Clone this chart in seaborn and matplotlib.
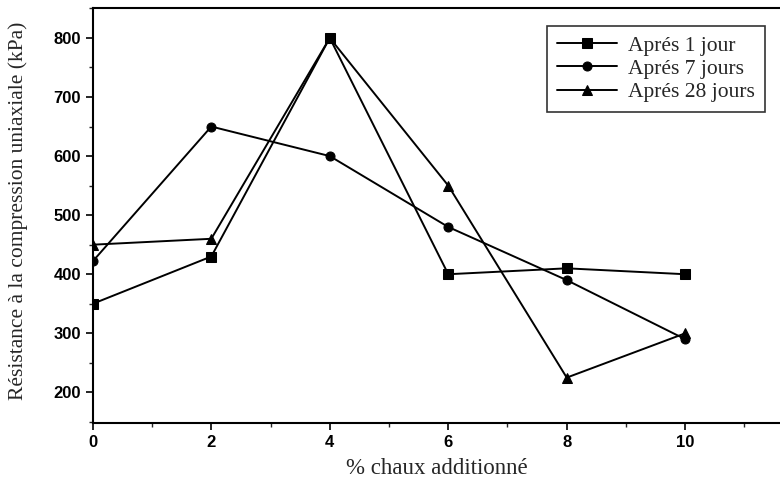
import matplotlib
matplotlib.use("Agg")
import matplotlib.pyplot as plt
import seaborn as sns
import pandas as pd
from matplotlib.ticker import MultipleLocator

chaux = [0, 2, 4, 6, 8, 10]
jour1 = [350, 430, 800, 400, 410, 400]
jours7 = [422, 650, 600, 480, 390, 290]
jours28 = [450, 460, 800, 550, 225, 300]
series_names = ["Aprés 1 jour", "Aprés 7 jours", "Aprés 28 jours"]

df = pd.DataFrame({
    "x": chaux * 3,
    "y": jour1 + jours7 + jours28,
    "serie": [series_names[0]] * 6 + [series_names[1]] * 6 + [series_names[2]] * 6,
})

sns.set_style("ticks")
fig = plt.figure(figsize=(7.8, 4.88), dpi=100)
ax = fig.add_axes([0.119, 0.133, 0.881, 0.851])

sns.lineplot(data=df, x="x", y="y", hue="serie", style="serie",
             palette=["black"] * 3, markers={series_names[0]: "s", series_names[1]: "o", series_names[2]: "^"},
             dashes=False, markersize=6.5, linewidth=1.4, markeredgecolor="black",
             ax=ax, legend=True)

ax.set_xlim(0, 11.6)
ax.set_ylim(148, 851)
ax.xaxis.set_major_locator(MultipleLocator(2))
ax.xaxis.set_minor_locator(MultipleLocator(1))
ax.yaxis.set_major_locator(MultipleLocator(100))
ax.yaxis.set_minor_locator(MultipleLocator(50))
ax.set_yticks([200, 300, 400, 500, 600, 700, 800])
ax.spines["right"].set_visible(False)
for s in ax.spines.values():
    s.set_linewidth(1.5)
    s.set_color("black")
ax.tick_params(axis="both", which="major", direction="out", length=5, width=1.2, colors="black")
ax.tick_params(axis="both", which="minor", direction="out", length=3, width=1.0)
for lab in ax.get_xticklabels() + ax.get_yticklabels():
    lab.set_fontfamily("Liberation Sans")
    lab.set_fontweight("bold")
    lab.set_fontsize(12)

ax.set_xlabel("% chaux additionné", fontfamily="Liberation Serif", fontsize=16.5, labelpad=6)
ax.set_ylabel("Résistance à la compression uniaxiale (kPa)", fontfamily="Liberation Serif", fontsize=15.5)
ax.yaxis.set_label_coords(-0.094, 0.51)

h, l = ax.get_legend_handles_labels()
leg = ax.legend(h, l, loc="upper left", bbox_to_anchor=(0.688, 0.969), bbox_transform=fig.transFigure,
                frameon=True, fancybox=False, edgecolor="black", handlelength=2.8,
                prop={"family": "Liberation Serif", "size": 15.5}, borderpad=0.45, labelspacing=0.15,
                handletextpad=0.5)
leg.get_frame().set_linewidth(1.2)

fig.savefig("out.png", dpi=100)
